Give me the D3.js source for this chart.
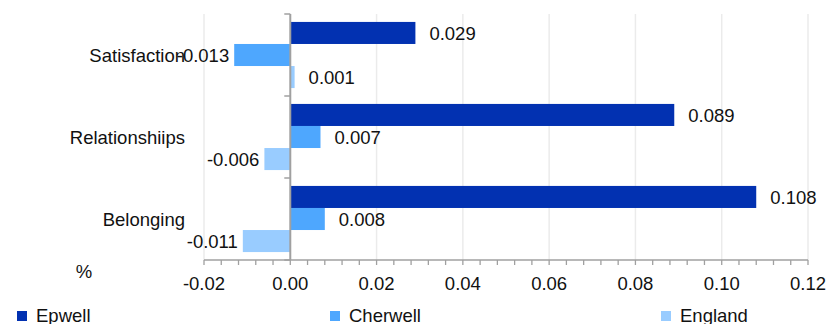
<!DOCTYPE html>
<html><head><meta charset="utf-8">
<script src="https://cdn.jsdelivr.net/npm/d3@7"></script>
<style>
html,body{margin:0;padding:0;background:#fff;}
svg{display:block;font-family:"Liberation Sans",Arial,sans-serif;}
</style></head>
<body><svg id="c" width="829" height="324"></svg>
<script>
const categories = ["Satisfaction", "Relationshiips", "Belonging"];
const seriesNames = ["Epwell", "Cherwell", "England"];
const epwell = [0.029, 0.089, 0.108];
const cherwell = [-0.013, 0.007, 0.008];
const england = [0.001, -0.006, -0.011];
const xTicks = [-0.02, 0.00, 0.02, 0.04, 0.06, 0.08, 0.10, 0.12];
const colors = ["#0231B1", "#4EA7FE", "#99CCFF"];

const seriesValues = [epwell, cherwell, england];
const svg = d3.select("#c");
const fs = 18.5;
const fmt3 = v => d3.format(".3f")(v).replace("\u2212", "-");
const fmt2 = v => d3.format(".2f")(v).replace("\u2212", "-");
const x = d3.scaleLinear().domain([-0.02, 0.12]).range([204, 808]);
const y = d3.scaleBand().domain(categories).range([14, 260]).padding(0);
const ys = d3.scaleBand().domain(seriesNames).range([0, y.bandwidth()]).paddingOuter(0.36).paddingInner(0);

// gridlines
svg.append("g").selectAll("line").data(xTicks.filter(t => t !== 0)).join("line")
  .attr("x1", d => x(d)).attr("x2", d => x(d))
  .attr("y1", 14).attr("y2", 260)
  .attr("stroke", "#ebebeb").attr("stroke-width", 1.5);

// bars
const groups = svg.append("g").selectAll("g").data(categories).join("g")
  .attr("transform", d => `translate(0,${y(d)})`);
groups.each(function(cat, ci) {
  const g = d3.select(this);
  seriesNames.forEach((s, si) => {
    const v = seriesValues[si][ci];
    g.append("rect")
      .attr("x", x(Math.min(0, v)))
      .attr("width", Math.abs(x(v) - x(0)))
      .attr("y", ys(s))
      .attr("height", ys.bandwidth())
      .attr("fill", colors[si]);
    const neg = v < 0;
    g.append("text")
      .attr("x", neg ? x(v) - 5 : x(v) + 14)
      .attr("y", ys(s) + ys.bandwidth() / 2)
      .attr("dy", "0.36em")
      .attr("text-anchor", neg ? "end" : "start")
      .attr("font-size", fs)
      .attr("fill", "#111")
      .text(fmt3(v));
  });
});

// x axis
const axisColor = "#a0a0a0";
const xAxis = svg.append("g").attr("transform", "translate(0,260)");
xAxis.append("line").attr("x1", x(-0.02)).attr("x2", x(0.12)).attr("stroke", axisColor).attr("stroke-width", 1.5);
const minor = d3.range(0, 36).map(i => -0.02 + i * 0.004);
xAxis.selectAll("line.t").data(minor).join("line").attr("class", "t")
  .attr("x1", d => x(d)).attr("x2", d => x(d)).attr("y1", 0).attr("y2", 5)
  .attr("stroke", axisColor).attr("stroke-width", 1.3);
xAxis.selectAll("text").data(xTicks).join("text")
  .attr("x", d => x(d)).attr("y", 30)
  .attr("text-anchor", "middle").attr("font-size", fs).attr("fill", "#111")
  .text(d => fmt2(d));

// y axis
const yAxis = svg.append("g");
yAxis.append("line").attr("x1", x(0)).attr("x2", x(0)).attr("y1", 14).attr("y2", 260)
  .attr("stroke", axisColor).attr("stroke-width", 2);
const bounds = categories.map(c => y(c)).concat([y.range()[1]]);
yAxis.selectAll("line.t").data(bounds).join("line").attr("class", "t")
  .attr("x1", x(0) - 6).attr("x2", x(0)).attr("y1", d => d).attr("y2", d => d)
  .attr("stroke", axisColor).attr("stroke-width", 1.5);
yAxis.selectAll("text").data(categories).join("text")
  .attr("x", 185).attr("y", d => y(d) + y.bandwidth() / 2)
  .attr("dy", "0.36em").attr("text-anchor", "end").attr("font-size", fs).attr("fill", "#111")
  .text(d => d);

// unit label
svg.append("text").attr("x", 84).attr("y", 271).attr("dy", "0.36em")
  .attr("text-anchor", "middle").attr("font-size", fs).attr("fill", "#111").text("%");

// legend
const legX = [17, 330, 661];
const leg = svg.append("g").selectAll("g").data(seriesNames).join("g")
  .attr("transform", (d, i) => `translate(${legX[i]},311)`);
leg.append("rect").attr("width", 10).attr("height", 10).attr("fill", (d, i) => colors[i]);
leg.append("text").attr("x", 19).attr("y", 11).attr("font-size", fs).attr("fill", "#111").text(d => d);
</script>
</body></html>
